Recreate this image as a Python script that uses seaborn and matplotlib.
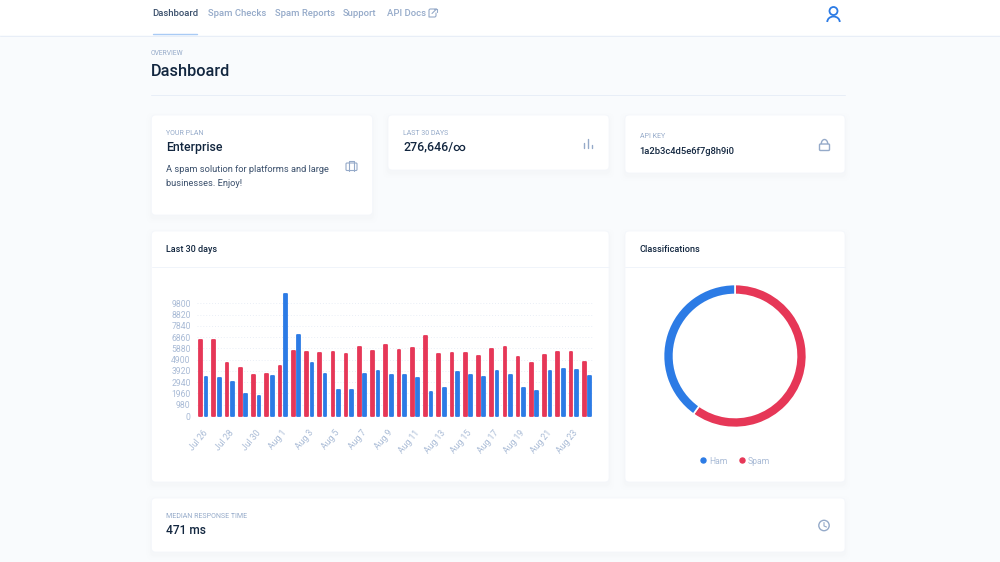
import pandas as pd
import seaborn as sns
import matplotlib.pyplot as plt
from matplotlib.lines import Line2D
from matplotlib.patches import FancyBboxPatch, Circle, Rectangle, Arc
from matplotlib.transforms import ScaledTranslation

days = ['Jul 26', 'Jul 27', 'Jul 28', 'Jul 29', 'Jul 30', 'Jul 31',
        'Aug 1', 'Aug 2', 'Aug 3', 'Aug 4', 'Aug 5', 'Aug 6', 'Aug 7', 'Aug 8', 'Aug 9',
        'Aug 10', 'Aug 11', 'Aug 12', 'Aug 13', 'Aug 14', 'Aug 15', 'Aug 16', 'Aug 17',
        'Aug 18', 'Aug 19', 'Aug 20', 'Aug 21', 'Aug 22', 'Aug 23', 'Aug 24']
spam = [6610, 6610, 4610, 4175, 3595, 3680, 4320, 5650, 5540, 5480, 5540, 5390, 6030, 5650, 6175,
        5770, 5940, 6960, 5420, 5480, 5480, 5250, 5830, 5970, 5130, 4580, 5305, 5570, 5600, 4670]
ham = [3420, 3305, 2985, 1940, 1770, 3450, 10580, 7075, 4610, 3650, 2230, 2230, 3625, 3885, 3535,
       3535, 3305, 2115, 2465, 3855, 3595, 3420, 3940, 3565, 2435, 2200, 3915, 4115, 4030, 3480]
y_ticks = [0, 980, 1960, 2940, 3920, 4900, 5880, 6860, 7840, 8820, 9800]
donut_labels = ['Spam', 'Ham']
donut_values = [165700, 110946]

BLUE = '#2c7be5'
RED = '#e63757'
DARK = '#12263f'
MUTED = '#95aac9'
BG = '#f9fbfd'
W, H = 1000, 562

sns.set_theme(style='white')
plt.rcParams['font.family'] = ['Roboto', 'DejaVu Sans']

fig = plt.figure(figsize=(10, 5.62), dpi=100, facecolor=BG)


def axes_px(left, top, right, bottom, **kw):
    return fig.add_axes([left / W, 1 - bottom / H, (right - left) / W, (bottom - top) / H], **kw)


# page furniture, in pixel coordinates
page = axes_px(0, 0, W, H)
page.set_xlim(0, W)
page.set_ylim(H, 0)
page.axis('off')


def card(x0, y0, x1, y1):
    for grow, alpha in [(5, 0.004), (3, 0.005), (1.5, 0.006)]:
        page.add_patch(FancyBboxPatch((x0 - grow, y0 - grow + 3), x1 - x0 + 2 * grow, y1 - y0 + 2 * grow,
                                      boxstyle='round,pad=0,rounding_size=5', fc=DARK, ec='none', alpha=alpha))
    page.add_patch(FancyBboxPatch((x0, y0), x1 - x0, y1 - y0, boxstyle='round,pad=0,rounding_size=4',
                                  fc='white', ec='#f3f6fb', lw=0.5))


def label(x, y, s, px, color=DARK, **kw):
    kw.setdefault('va', 'center')
    page.text(x, y, s, fontsize=px * 0.72, color=color, **kw)


page.add_patch(Rectangle((0, 0), W, 35, fc='white', ec='none'))
page.plot([0, W], [35.5, 35.5], color='#e8eef7', lw=0.7)
page.plot([152.5, 197], [33.8, 33.8], color='#a9cbf5', lw=1)
page.plot([151, 845], [95, 95], color='#e8eef7', lw=0.7)

label(152.5, 13, 'Dashboard', 9.5, '#3b506c', fontweight='medium')
label(207.5, 13, 'Spam Checks', 9.5, MUTED, fontweight='medium')
label(275, 13, 'Spam Reports', 9.5, MUTED, fontweight='medium')
label(343, 13, 'Support', 9.5, MUTED, fontweight='medium')
label(387, 14, 'API Docs', 9.5, MUTED, fontweight='medium')

# external link icon
page.plot([436, 430, 429, 429, 435, 436, 436], [9, 9, 10, 17, 17, 16, 13], color=MUTED, lw=0.8)
page.plot([432, 436.5], [13.5, 9], color=MUTED, lw=0.8)
page.plot([433.5, 436.5, 436.5], [8.5, 8.5, 11.5], color=MUTED, lw=0.8)

# user icon
page.add_patch(Circle((833.5, 11), 4, fc='none', ec=BLUE, lw=1.3))
page.add_patch(Arc((833.5, 22), 12.5, 11, theta1=180, theta2=360, ec=BLUE, lw=1.3))

label(151, 53.5, 'OVERVIEW', 6.8, MUTED)
label(151, 71, 'Dashboard', 16.3, DARK, fontweight='medium')

card(151.5, 115, 372.5, 215)
card(388, 115, 609, 170)
card(625, 115, 845, 173)
card(151.5, 231, 609, 482)
card(625, 231, 845, 482)
card(151.5, 498, 845, 552)

label(166.5, 133.5, 'YOUR PLAN', 7, MUTED)
label(166.5, 147, 'Enterprise', 12.4, DARK, fontweight='medium')
label(166.5, 169.5, 'A spam solution for platforms and large', 9.3, '#3b506c')
label(166.5, 183, 'businesses. Enjoy!', 9.3, '#3b506c')
label(403, 133.5, 'LAST 30 DAYS', 7, MUTED)
label(403, 147, '276,646/∞', 12.4, DARK, fontweight='medium')
label(639.5, 137, 'API KEY', 7, MUTED)
label(639.5, 151, '1a2b3c4d5e6f7g8h9i0', 9.4, DARK, fontweight='medium')
label(166.5, 249, 'Last 30 days', 9, DARK, fontweight='medium')
label(639.5, 249, 'Classifications', 9.2, DARK, fontweight='medium')
label(166.5, 517, 'MEDIAN RESPONSE TIME', 7, MUTED)
label(166.5, 530, '471 ms', 12, DARK, fontweight='medium')

page.plot([151.5, 609], [267, 267], color='#f0f4fa', lw=0.7)
page.plot([625, 845], [267, 267], color='#f0f4fa', lw=0.7)

# small card icons
page.add_patch(FancyBboxPatch((346, 163), 11, 7.5, boxstyle='round,pad=0,rounding_size=1', fc='none', ec=MUTED, lw=0.8))
page.plot([349, 349, 354, 354], [170.5, 161, 161, 170.5], color=MUTED, lw=0.8)
page.plot([584, 584], [148, 143], color=MUTED, lw=1)
page.plot([588, 588], [148, 139], color=MUTED, lw=1)
page.plot([592, 592], [148, 145], color=MUTED, lw=1)
page.add_patch(FancyBboxPatch((819.5, 144), 10, 6.5, boxstyle='round,pad=0,rounding_size=1', fc='none', ec=MUTED, lw=1))
page.add_patch(Arc((824.5, 144), 6.5, 9, theta1=180, theta2=360, ec=MUTED, lw=1))
page.add_patch(Circle((824, 525.5), 5.2, fc='none', ec=MUTED, lw=1))
page.plot([824, 824, 826.5], [522.5, 526, 527], color=MUTED, lw=0.8)

# bar chart
df = pd.DataFrame({'day': days * 2, 'count': spam + ham,
                   'kind': ['Spam'] * len(days) + ['Ham'] * len(days)})
ax = axes_px(196.7, 290, 593.6, 416)
ax.patch.set_alpha(0)
sns.barplot(data=df, x='day', y='count', hue='kind', hue_order=['Spam', 'Ham'],
            palette={'Spam': RED, 'Ham': BLUE}, width=0.816, gap=0.5, saturation=1, legend=False, ax=ax)
for bar in ax.patches:
    bar.set_edgecolor(bar.get_facecolor())
    bar.set_linewidth(1.3)
    bar.set_joinstyle('round')
    bar.set_clip_on(False)
ax.set_ylim(0, 10957)
ax.set_xlim(-0.5, 29.5)
ax.set_xlabel('')
ax.set_ylabel('')
ax.set_yticks(y_ticks)
ax.set_xticks(range(0, 30, 2))
ax.set_xticklabels(days[::2])
ax.grid(axis='y', color='#e9eef6', lw=0.7, linestyle=(0, (1, 2)))
ax.set_axisbelow(True)
sns.despine(ax=ax, left=True, bottom=True)
ax.tick_params(axis='y', length=0, pad=4.3, labelsize=6.2, labelcolor='#a9bbd6')
ax.tick_params(axis='x', length=0, pad=9, labelsize=6.2, labelcolor='#a9bbd6')
shift = ScaledTranslation(6 / 100, 0, fig.dpi_scale_trans)
for tick in ax.get_xticklabels():
    tick.set_rotation(50)
    tick.set_ha('right')
    tick.set_transform(tick.get_transform() + shift)

# donut
dax = axes_px(735 - 71.5, 356 - 71.5, 735 + 71.5, 356 + 71.5)
dax.pie(donut_values, colors=[RED, BLUE], startangle=90, counterclock=False, radius=1,
        wedgeprops={'width': 0.14, 'edgecolor': 'white', 'linewidth': 1.2})
dax.set_xlim(-1, 1)
dax.set_ylim(-1, 1)

handles = [Line2D([], [], marker='o', ls='', ms=3.6, color=BLUE),
           Line2D([], [], marker='o', ls='', ms=3.6, color=RED)]
leg = page.legend(handles, donut_labels[::-1], loc='center', bbox_to_anchor=(735, 461),
                  bbox_transform=page.transData, ncol=2, frameon=False, fontsize=6.2,
                  handlelength=0.7, handletextpad=0.3, columnspacing=1.3, labelcolor='#a9bbd6')

fig.savefig('out.png', dpi=100, facecolor=BG)
